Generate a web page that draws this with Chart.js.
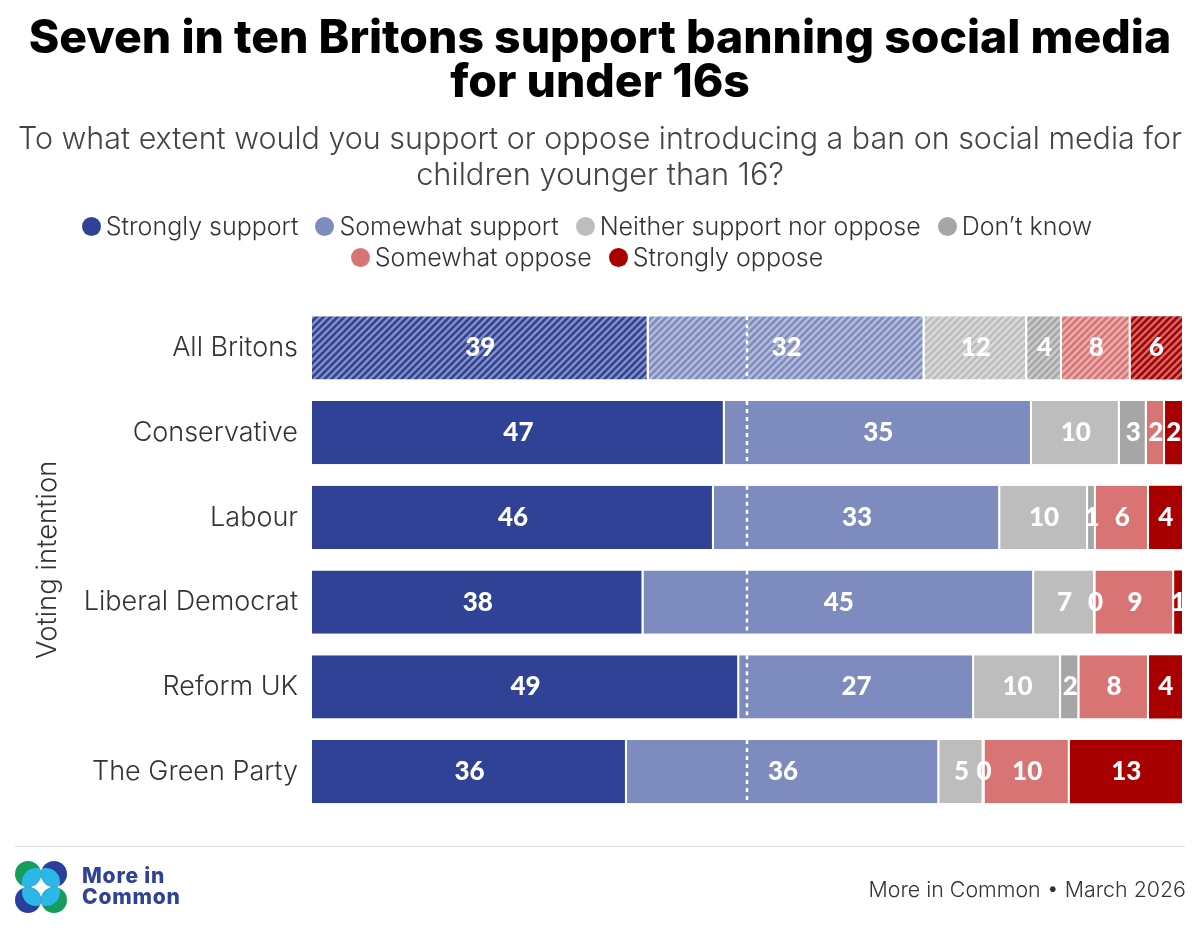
<!DOCTYPE html>
<html><head><meta charset="utf-8">
<script src="https://cdn.jsdelivr.net/npm/chart.js@4/dist/chart.umd.min.js"></script>
<style>
html,body{margin:0;padding:0;background:#fff;width:1200px;height:933px;overflow:hidden;font-family:Inter,sans-serif;color:#444}
#wrap{position:relative;width:1200px;height:933px}
canvas{position:absolute;left:0;top:0}
#legend{position:absolute;left:-13px;top:211px;width:1200px;text-align:center;font-size:25px;font-weight:300;line-height:31px;color:#333}
#legend .row{display:flex;justify-content:center;height:31px;align-items:center}
#legend .it{display:flex;align-items:center;margin:0 8.5px;white-space:nowrap}
#legend i{display:block;width:19px;height:19px;border-radius:50%;margin-right:5px}
#rule{position:absolute;left:15px;width:1170px;top:846px;height:1px;background:#ddd}
#src{position:absolute;right:14px;top:875px;font-size:21.4px;font-weight:300;color:#333;line-height:28px}
#logo{position:absolute;left:82px;top:865px;font-size:21px;font-weight:800;line-height:21px;color:#2F4295;letter-spacing:.8px}
#mark{position:absolute;left:15px;top:861px}
</style></head><body>
<div id="wrap">
<canvas id="c" width="1200" height="933"></canvas>
<div id="legend"></div>
<div id="rule"></div>
<svg id="mark" width="52" height="52" viewBox="0 0 52 52">
<defs>
<clipPath id="a"><circle cx="13" cy="13" r="13"/></clipPath>
<clipPath id="b"><circle cx="39" cy="13" r="13"/></clipPath>
<clipPath id="d"><circle cx="13" cy="39" r="13"/></clipPath>
<clipPath id="e"><circle cx="39" cy="39" r="13"/></clipPath>
</defs>
<circle cx="13" cy="13" r="13" fill="#159E5B"/><circle cx="21" cy="21" r="14" fill="#2DB7E8" clip-path="url(#a)"/>
<circle cx="39" cy="13" r="13" fill="#2A3F9B"/><circle cx="31" cy="21" r="14" fill="#2DB7E8" clip-path="url(#b)"/>
<circle cx="13" cy="39" r="13" fill="#2A3F9B"/><circle cx="21" cy="31" r="14" fill="#2DB7E8" clip-path="url(#d)"/>
<circle cx="39" cy="39" r="13" fill="#159E5B"/><circle cx="31" cy="31" r="14" fill="#2DB7E8" clip-path="url(#e)"/>
</svg>
<div id="logo">More in<br>Common</div>
<div id="src">More in Common • March 2026</div>
</div>
<script>
const categories = ["All Britons","Conservative","Labour","Liberal Democrat","Reform UK","The Green Party"];
const stronglySupport = [38.7,47.45,46.2,38.1,49.1,36.2];
const somewhatSupport = [31.7,35.3,32.9,44.9,27.0,35.9];
const neitherSupport = [11.8,10.1,10.1,7.0,10.0,5.1];
const dontKnow = [4.0,3.1,0.9,0.1,2.1,0.1];
const somewhatOppose = [7.9,2.1,6.1,9.0,8.0,9.8];
const stronglyOppose = [5.9,2.0,3.9,1.0,3.9,13.0];
const seriesNames = ["Strongly support","Somewhat support","Neither support nor oppose","Don’t know","Somewhat oppose","Strongly oppose"];
const seriesColors = ["#2F4295","#7E8BBE","#BDBDBD","#A6A6A6","#D87474","#A80000"];
const seriesValues = [stronglySupport,somewhatSupport,neitherSupport,dontKnow,somewhatOppose,stronglyOppose];
const legendRows = [[0,1,2,3],[4,5]];

function hatch(color){
  const s=7,p=document.createElement('canvas');p.width=s;p.height=s;
  const g=p.getContext('2d');g.fillStyle=color;g.fillRect(0,0,s,s);
  g.strokeStyle='rgba(255,255,255,.42)';g.lineWidth=2.4;g.lineCap='square';
  [[-s,s,s,-s],[0,s,s,0],[0,2*s,2*s,0]].forEach(l=>{g.beginPath();g.moveTo(l[0],l[1]);g.lineTo(l[2],l[3]);g.stroke();});
  return g.createPattern(p,'repeat');
}
const dashPlugin={id:'dash',afterDatasetsDraw(chart){
  const g=chart.ctx,x=chart.scales.x.getPixelForValue(50),y=chart.scales.y;
  const half=y.getPixelForValue(1)-y.getPixelForValue(0);
  g.save();g.strokeStyle='#fff';g.lineWidth=2.5;g.setLineDash([4,4]);
  categories.forEach((c,i)=>{const m=y.getPixelForValue(i),h=half*0.745/2;
    g.beginPath();g.moveTo(x,m-h);g.lineTo(x,m+h);g.stroke();});
  g.restore();
}};
const labelPlugin={id:'vals',afterDatasetsDraw(chart){
  const g=chart.ctx;g.save();g.fillStyle='#fff';g.textAlign='center';g.textBaseline='middle';
  g.font='900 26px Lato';
  chart.data.datasets.forEach((d,i)=>{chart.getDatasetMeta(i).data.forEach((b,j)=>{
    const p=b.getProps(['x','base','y']);
    g.fillText(String(Math.round(d.data[j])),(p.x+p.base)/2,p.y);
  });});
  g.restore();
}};
const datasets=seriesNames.map((n,i)=>({
  label:n,data:seriesValues[i],
  backgroundColor:categories.map((c,j)=>j===0?hatch(seriesColors[i]):seriesColors[i]),
  borderColor:'#fff',borderWidth:{right:i<5?2:0,left:0,top:0,bottom:0},borderSkipped:false,
  categoryPercentage:1,barPercentage:0.745
}));
new Chart(document.getElementById('c'),{type:'bar',data:{labels:categories,datasets},
 plugins:[dashPlugin,labelPlugin],
 options:{indexAxis:'y',responsive:false,animation:false,devicePixelRatio:1,
  layout:{padding:{left:18,right:18,top:17,bottom:119}},
  plugins:{legend:{display:false},tooltip:{enabled:false},
   title:{display:true,text:["Seven in ten Britons support banning social media","for under 16s"],color:'#000',
     font:{family:'Inter',size:46.3,weight:800,lineHeight:0.95},padding:{top:0,bottom:17}},
   subtitle:{display:true,text:["To what extent would you support or oppose introducing a ban on social media for","children younger than 16?"],color:'#444',
     font:{family:'Inter',size:30.8,weight:300,lineHeight:1.17},padding:{top:0,bottom:111.5}}},
  scales:{
   x:{stacked:true,min:0,max:100,display:false},
   y:{stacked:true,grid:{display:false},border:{display:false},
     afterFit(s){s.width=294;},
     ticks:{color:'#333',font:{family:'Inter',size:27,weight:300},padding:6,autoSkip:false},
     title:{display:true,text:'Voting intention',color:'#333',font:{family:'Inter',size:27.5,weight:300},padding:{top:13,bottom:0}}
   }}
 }});
const L=document.getElementById('legend');
legendRows.forEach(r=>{const row=document.createElement('div');row.className='row';
 r.forEach(i=>{const it=document.createElement('div');it.className='it';
  const dot=document.createElement('i');dot.style.background=seriesColors[i];it.appendChild(dot);
  it.appendChild(document.createTextNode(seriesNames[i]));row.appendChild(it);});
 L.appendChild(row);});
</script>
</body></html>
